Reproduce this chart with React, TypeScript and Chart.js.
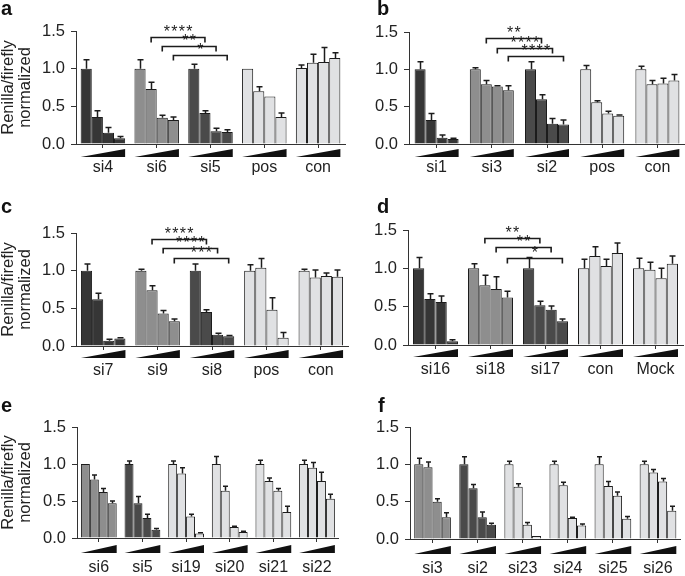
import React, { useEffect, useRef } from 'react';
import { Chart, registerables } from 'chart.js';

Chart.register(...registerables);

const FONT = '"Liberation Sans", Arial, Helvetica, sans-serif';
const DK = '#363636';
const DK2 = '#4a4a4a';
const MD = '#8e8e8e';
const LT = '#e0e1e3';
const INK = '#1c1c1c';

const yTicks = [0, 0.5, 1.0, 1.5];
const yTitle = ['Renilla/firefly', 'normalized'];

// ---------- panel a ----------
const aLabels = ['si4', 'si6', 'si5', 'pos', 'con'];
const aColors = [DK, MD, DK2, LT, LT];
const aMeans = [
  [1.0, 0.36, 0.15, 0.076],
  [1.0, 0.73, 0.35, 0.32],
  [1.0, 0.41, 0.17, 0.16],
  [1.0, 0.7, 0.63, 0.36],
  [1.01, 1.08, 1.09, 1.14],
];
const aErrors = [
  [0.12, 0.08, 0.07, 0.024],
  [0.12, 0.09, 0.03, 0.04],
  [0.06, 0.03, 0.04, 0.03],
  [0, 0.06, 0, 0.05],
  [0.04, 0.11, 0.19, 0.07],
];
const aBrackets = [
  { g1: 1, g2: 2, dose: 1, y: 1.42, stars: 4 },
  { g1: 1, g2: 2, dose: 2, y: 1.3, stars: 2 },
  { g1: 1, g2: 2, dose: 3, y: 1.18, stars: 1 },
];

// ---------- panel b ----------
const bLabels = ['si1', 'si3', 'si2', 'pos', 'con'];
const bColors = [DK, MD, DK2, LT, LT];
const bMeans = [
  [1.0, 0.32, 0.084, 0.066],
  [1.0, 0.8, 0.77, 0.72],
  [1.0, 0.6, 0.27, 0.26],
  [1.0, 0.56, 0.41, 0.38],
  [1.0, 0.8, 0.81, 0.85],
];
const bErrors = [
  [0.1, 0.09, 0.036, 0.01],
  [0.02, 0.05, 0.01, 0.06],
  [0.1, 0.06, 0.07, 0.06],
  [0.05, 0.02, 0.03, 0.01],
  [0.04, 0.05, 0.07, 0.08],
];
const bBrackets = [
  { g1: 1, g2: 2, dose: 1, y: 1.42, stars: 2 },
  { g1: 1, g2: 2, dose: 2, y: 1.29, stars: 4 },
  { g1: 1, g2: 2, dose: 3, y: 1.18, stars: 4 },
];

// ---------- panel c ----------
const cLabels = ['si7', 'si9', 'si8', 'pos', 'con'];
const cColors = [DK, MD, DK2, LT, LT];
const cMeans = [
  [1.0, 0.62, 0.07, 0.1],
  [1.0, 0.74, 0.43, 0.33],
  [1.0, 0.45, 0.15, 0.13],
  [1.0, 1.04, 0.48, 0.11],
  [1.0, 0.91, 0.93, 0.92],
];
const cErrors = [
  [0.09, 0.08, 0.02, 0.01],
  [0.02, 0.06, 0.04, 0.03],
  [0.09, 0.03, 0.02, 0.01],
  [0.08, 0.12, 0.16, 0.07],
  [0.02, 0.1, 0.04, 0.09],
];
const cBrackets = [
  { g1: 1, g2: 2, dose: 1, y: 1.42, stars: 4 },
  { g1: 1, g2: 2, dose: 2, y: 1.3, stars: 4 },
  { g1: 1, g2: 2, dose: 3, y: 1.17, stars: 3 },
];

// ---------- panel d ----------
const dLabels = ['si16', 'si18', 'si17', 'con', 'Mock'];
const dColors = [DK, MD, DK2, LT, LT];
const dMeans = [
  [1.0, 0.6, 0.56, 0.05],
  [1.0, 0.78, 0.73, 0.62],
  [1.0, 0.52, 0.46, 0.31],
  [1.0, 1.16, 1.03, 1.2],
  [1.0, 0.98, 0.87, 1.06],
];
const dErrors = [
  [0.14, 0.07, 0.08, 0.02],
  [0.06, 0.13, 0.16, 0.08],
  [0.14, 0.05, 0.05, 0.03],
  [0.12, 0.12, 0.09, 0.13],
  [0.13, 0.1, 0.13, 0.1],
];
const dBrackets = [
  { g1: 1, g2: 2, dose: 1, y: 1.4, stars: 2 },
  { g1: 1, g2: 2, dose: 2, y: 1.28, stars: 2 },
  { g1: 1, g2: 2, dose: 3, y: 1.14, stars: 1 },
];

// ---------- panel e ----------
const eLabels = ['si6', 'si5', 'si19', 'si20', 'si21', 'si22'];
const eColors = [MD, DK2, LT, LT, LT, LT];
const eMeans = [
  [1.0, 0.79, 0.62, 0.47],
  [1.0, 0.47, 0.27, 0.11],
  [1.0, 0.87, 0.29, 0.06],
  [1.0, 0.64, 0.15, 0.08],
  [1.0, 0.77, 0.64, 0.35],
  [1.0, 0.95, 0.77, 0.53],
];
const eErrors = [
  [0, 0.06, 0.05, 0.03],
  [0.04, 0.09, 0.05, 0.02],
  [0.04, 0.08, 0.03, 0.01],
  [0.1, 0.06, 0.01, 0.01],
  [0.05, 0.04, 0.03, 0.08],
  [0.05, 0.07, 0.12, 0.06],
];

// ---------- panel f ----------
const fLabels = ['si3', 'si2', 'si23', 'si24', 'si25', 'si26'];
const fColors = [MD, DK2, LT, LT, LT, LT];
const fMeans = [
  [1.0, 0.96, 0.5, 0.29],
  [1.0, 0.68, 0.29, 0.19],
  [1.0, 0.7, 0.19, 0.04],
  [1.0, 0.72, 0.28, 0.18],
  [1.0, 0.71, 0.58, 0.27],
  [1.0, 0.89, 0.77, 0.38],
];
const fErrors = [
  [0.08, 0.07, 0.04, 0.06],
  [0.1, 0.05, 0.07, 0.02],
  [0.04, 0.04, 0.03, 0],
  [0.04, 0.04, 0.01, 0.02],
  [0.1, 0.06, 0.05, 0.03],
  [0.04, 0.04, 0.04, 0.06],
];

type Bracket = { g1: number; g2: number; dose: number; y: number; stars: number };

type Spec = {
  letter: string;
  labels: string[];
  colors: string[];
  means: number[][];
  errors: number[][];
  brackets: Bracket[];
  x: number;
  y: number;
  w: number;
  h: number;
  area: { left: number; right: number; top: number; bottom: number };
  catPct: number;
  title: boolean;
  labelPad: number;
  wedgeTop: number;
  wedgeBottom: number;
  cap: number;
  letterX: number;
  letterY: number;
};

const errorPlugin = {
  id: 'errBars',
  afterDatasetsDraw(chart: any, _args: any, opts: any) {
    const { ctx } = chart;
    const ys = chart.scales.y;
    const errors: number[][] = opts.errors || [];
    const means: number[][] = opts.means || [];
    ctx.save();
    ctx.strokeStyle = INK;
    ctx.lineWidth = 1.5;
    for (let k = 0; k < 4; k++) {
      const meta = chart.getDatasetMeta(k);
      meta.data.forEach((bar: any, j: number) => {
        const e = errors[j]?.[k] ?? 0;
        if (!e) return;
        const top = ys.getPixelForValue(means[j][k] + e);
        const x = Math.round(bar.x) + 0.5;
        ctx.beginPath();
        ctx.moveTo(x, bar.y);
        ctx.lineTo(x, top);
        ctx.moveTo(x - opts.cap / 2, top);
        ctx.lineTo(x + opts.cap / 2, top);
        ctx.stroke();
      });
    }
    ctx.restore();
  },
};

const decorPlugin = {
  id: 'decor',
  afterDraw(chart: any, _args: any, opts: any) {
    const { ctx } = chart;
    const ys = chart.scales.y;
    const axisY = chart.chartArea.bottom;
    const first = chart.getDatasetMeta(0);
    const last = chart.getDatasetMeta(3);
    ctx.save();
    // dose wedges
    ctx.fillStyle = '#111';
    first.data.forEach((b0: any, j: number) => {
      const b3 = last.data[j];
      const L = b0.x - b0.width / 2;
      const R = b3.x + b3.width / 2;
      ctx.beginPath();
      ctx.moveTo(L, axisY + opts.wedgeBottom);
      ctx.lineTo(R, axisY + opts.wedgeTop);
      ctx.lineTo(R, axisY + opts.wedgeBottom);
      ctx.closePath();
      ctx.fill();
    });
    // significance brackets
    const brackets: Bracket[] = opts.brackets || [];
    ctx.strokeStyle = INK;
    ctx.lineWidth = 1.6;
    ctx.font = `16px ${FONT}`;
    ctx.textAlign = 'center';
    ctx.textBaseline = 'alphabetic';
    brackets.forEach((br) => {
      const meta = chart.getDatasetMeta(br.dose);
      const x1 = meta.data[br.g1].x;
      const x2 = meta.data[br.g2].x;
      const yy = Math.round(ys.getPixelForValue(br.y)) + 0.5;
      const drop = 5;
      ctx.beginPath();
      ctx.moveTo(x1, yy + drop);
      ctx.lineTo(x1, yy);
      ctx.lineTo(x2, yy);
      ctx.lineTo(x2, yy + drop);
      ctx.stroke();
      const cx = (x1 + x2) / 2;
      const pitch = 7.5;
      ctx.fillStyle = INK;
      for (let i = 0; i < br.stars; i++) {
        const sx = cx - ((br.stars - 1) * pitch) / 2 + i * pitch;
        ctx.fillText('*', sx, yy - 1);
      }
    });
    ctx.restore();
  },
};

function Panel({ spec }: { spec: Spec }) {
  const ref = useRef<HTMLCanvasElement>(null);
  useEffect(() => {
    const s = spec;
    const datasets = [0, 1, 2, 3].map((k) => ({
      label: `dose ${k + 1}`,
      data: s.means.map((g) => g[k]),
      backgroundColor: s.colors,
      borderColor: INK,
      borderWidth: 1,
      categoryPercentage: s.catPct,
      barPercentage: 1,
    }));
    const chart = new Chart(ref.current as HTMLCanvasElement, {
      type: 'bar',
      data: { labels: s.labels, datasets },
      plugins: [errorPlugin, decorPlugin],
      options: {
        responsive: false,
        animation: false,
        devicePixelRatio: 1,
        events: [],
        layout: {
          padding: { left: 0, right: s.w - s.area.right, top: s.area.top, bottom: 0 },
        },
        plugins: {
          legend: { display: false },
          tooltip: { enabled: false },
          errBars: { errors: s.errors, means: s.means, cap: s.cap },
          decor: { brackets: s.brackets, wedgeTop: s.wedgeTop, wedgeBottom: s.wedgeBottom },
        } as any,
        scales: {
          x: {
            afterFit: (sc: any) => {
              sc.height = s.h - s.area.bottom;
            },
            grid: {
              offset: false,
              drawOnChartArea: false,
              drawTicks: true,
              tickLength: 4,
              color: '#333',
              lineWidth: 1,
            },
            border: { display: true, color: '#333', width: 1 },
            ticks: {
              font: { family: FONT, size: 16 },
              color: '#222',
              padding: s.labelPad,
              maxRotation: 0,
              autoSkip: false,
            },
          },
          y: {
            min: 0,
            max: 1.5,
            afterFit: (sc: any) => {
              sc.width = s.area.left;
            },
            afterBuildTicks: (sc: any) => {
              sc.ticks = yTicks.map((v) => ({ value: v }));
            },
            grid: {
              drawOnChartArea: false,
              drawTicks: true,
              tickLength: 5,
              color: '#333',
              lineWidth: 1,
            },
            border: { display: true, color: '#333', width: 1 },
            ticks: {
              font: { family: FONT, size: 16.5 },
              color: '#222',
              padding: 6,
              callback: (v: any) => Number(v).toFixed(1),
            },
            title: {
              display: s.title,
              text: yTitle,
              color: '#222',
              font: { family: FONT, size: 16.5, lineHeight: 1.02 },
              padding: { top: 0, bottom: 0 },
            },
          },
        },
      } as any,
    });
    return () => chart.destroy();
  }, [spec]);
  return (
    <>
      <canvas
        ref={ref}
        width={spec.w}
        height={spec.h}
        style={{ position: 'absolute', left: spec.x, top: spec.y, width: spec.w, height: spec.h }}
      />
      <div
        style={{
          position: 'absolute',
          left: spec.letterX,
          top: spec.letterY,
          font: `bold 20px ${FONT}`,
          lineHeight: '20px',
          color: '#111',
        }}
      >
        {spec.letter}
      </div>
    </>
  );
}

const specs: Spec[] = [
  {
    letter: 'a', labels: aLabels, colors: aColors, means: aMeans, errors: aErrors, brackets: aBrackets,
    x: 0, y: 0, w: 349, h: 190, area: { left: 76, right: 345, top: 31, bottom: 144 },
    catPct: 0.827, title: true, labelPad: 10, wedgeTop: 5, wedgeBottom: 13, cap: 6, letterX: 1, letterY: -2,
  },
  {
    letter: 'b', labels: bLabels, colors: bColors, means: bMeans, errors: bErrors, brackets: bBrackets,
    x: 340, y: 0, w: 349, h: 190, area: { left: 69, right: 345, top: 32, bottom: 144 },
    catPct: 0.797, title: false, labelPad: 10, wedgeTop: 5, wedgeBottom: 13, cap: 6, letterX: 377, letterY: -2,
  },
  {
    letter: 'c', labels: cLabels, colors: cColors, means: cMeans, errors: cErrors, brackets: cBrackets,
    x: 0, y: 190, w: 352, h: 190, area: { left: 76, right: 348, top: 43, bottom: 156 },
    catPct: 0.818, title: true, labelPad: 11, wedgeTop: 4, wedgeBottom: 12, cap: 6, letterX: 1, letterY: 196,
  },
  {
    letter: 'd', labels: dLabels, colors: dColors, means: dMeans, errors: dErrors, brackets: dBrackets,
    x: 340, y: 190, w: 347, h: 190, area: { left: 68, right: 343, top: 40, bottom: 155 },
    catPct: 0.818, title: false, labelPad: 11, wedgeTop: 4, wedgeBottom: 12, cap: 6, letterX: 377, letterY: 196,
  },
  {
    letter: 'e', labels: eLabels, colors: eColors, means: eMeans, errors: eErrors, brackets: [],
    x: 0, y: 380, w: 348, h: 196, area: { left: 77, right: 344, top: 47, bottom: 158 },
    catPct: 0.82, title: true, labelPad: 16, wedgeTop: 7, wedgeBottom: 15, cap: 5, letterX: 1, letterY: 395,
  },
  {
    letter: 'f', labels: fLabels, colors: fColors, means: fMeans, errors: fErrors, brackets: [],
    x: 340, y: 380, w: 349, h: 196, area: { left: 70, right: 345, top: 47, bottom: 159 },
    catPct: 0.814, title: false, labelPad: 16, wedgeTop: 7, wedgeBottom: 15, cap: 5, letterX: 378, letterY: 395,
  },
];

export default function App() {
  return (
    <div
      style={{
        position: 'absolute',
        left: 0,
        top: 0,
        width: 685,
        height: 576,
        overflow: 'hidden',
        background: '#fff',
      }}
    >
      {specs.map((s) => (
        <Panel key={s.letter} spec={s} />
      ))}
    </div>
  );
}
